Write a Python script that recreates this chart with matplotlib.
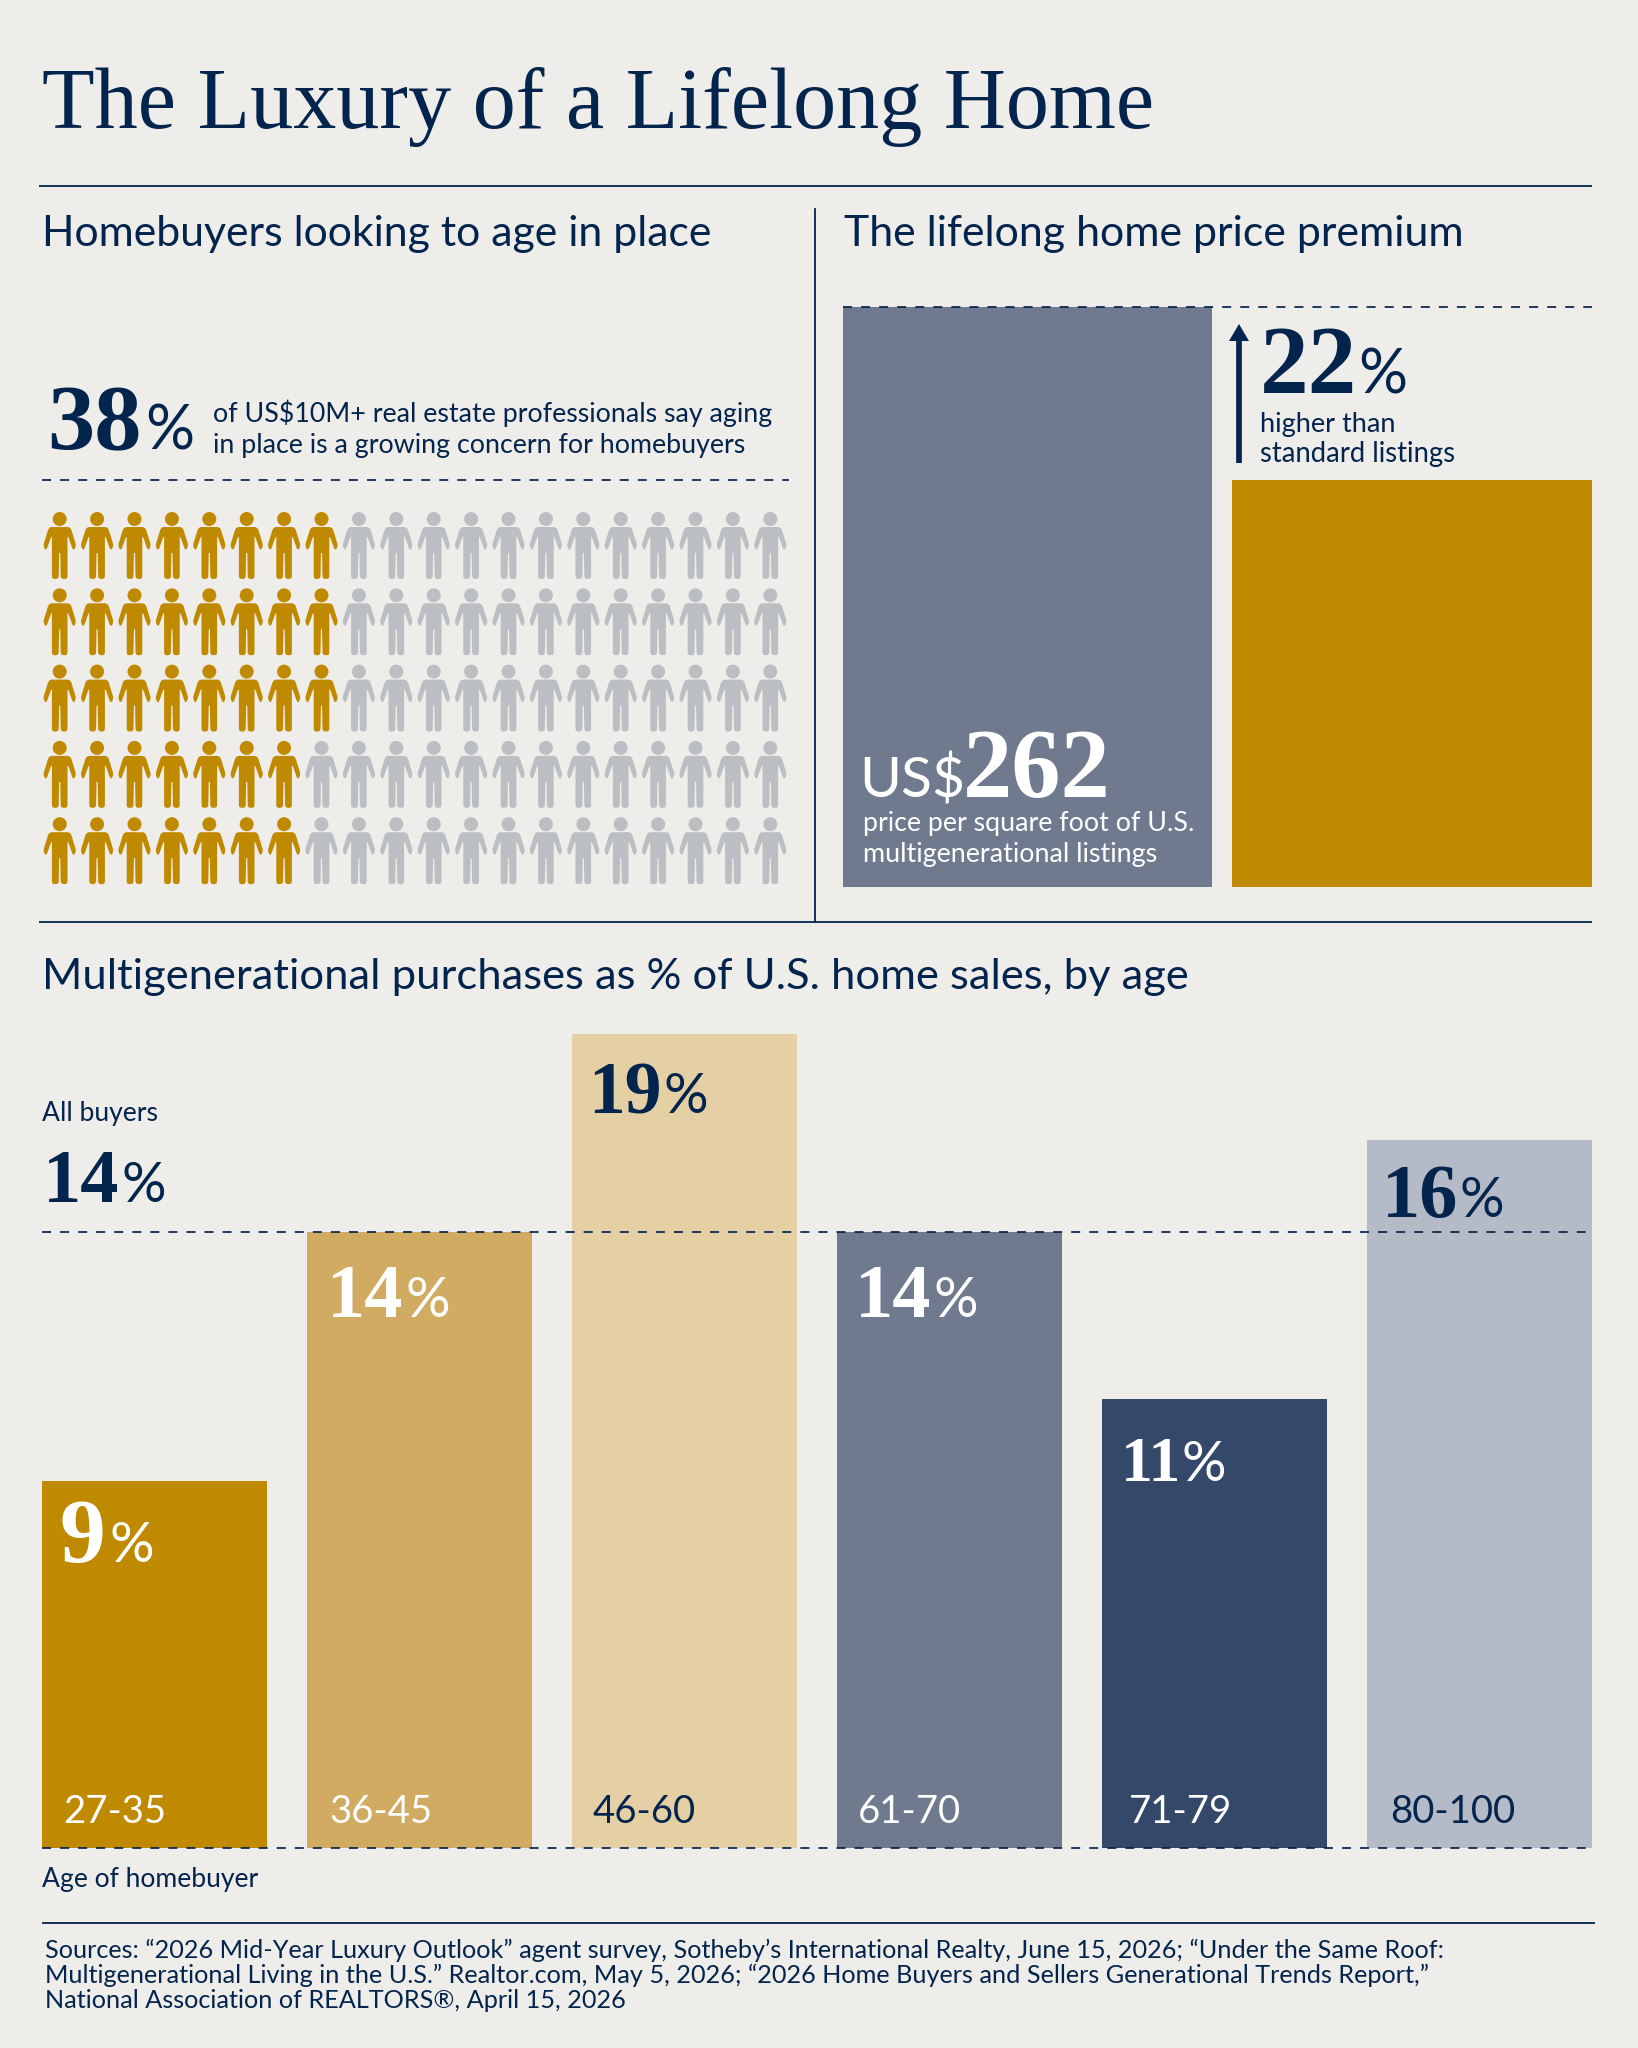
import numpy as np
import matplotlib
matplotlib.use('Agg')
import matplotlib.pyplot as plt
from matplotlib.path import Path

W, H = 1638, 2048
BG = '#eeede9'
NAVY = '#03244d'
GOLD = '#c08a00'
SLATE = '#707a8f'
GREY = '#bbbfc3'
SANS = 'Lato'
SERIF = 'Liberation Serif'
DASH = (0, (5.2, 5.2))

# bar chart by age
age_groups = ['27-35', '36-45', '46-60', '61-70', '71-79', '80-100']
bar_heights = [8.35, 14.0, 18.5, 14.0, 10.2, 16.1]
bar_labels = ['9', '14', '19', '14', '11', '16']
bar_colors = [GOLD, '#d1ab61', '#e5cfa5', SLATE, '#34496a', '#b4bac6']
all_buyers = 14

# price premium bars
price_values = [262, 184]
price_colors = [SLATE, GOLD]

# people per row that count toward the 38%
gold_per_row = [8, 8, 8, 7, 7]
n_cols = 20


def axes_px(x0, y0, x1, y1):
    # axes from pixel box, y measured from the top of the image
    a = fig.add_axes([x0 / W, 1 - y1 / H, (x1 - x0) / W, (y1 - y0) / H])
    a.axis('off')
    a.patch.set_alpha(0)
    return a


def person_path():
    # right half of the body, origin at hip centre, y up, units are image pixels
    half = [(0, 30), (8.3, 30), (10.5, 29), (11.7, 27), (16, 13), (16, 11), (15, 8), (13.5, 7.5),
            (12.5, 9), (8.6, 20), (7.8, 20), (7.8, -19.5), (7, -21.5), (4.5, -22), (2, -21.5),
            (1, -19.5), (0.6, 4), (0, 4)]
    right = np.array(half, float)
    left = right[::-1] * [-1, 1]
    body = Path(np.vstack([right, left[1:], right[:1]]), closed=True)
    head = Path.circle((0, 38), 7)
    return Path.make_compound_path(body, head)


fig = plt.figure(figsize=(W / 100, H / 100), dpi=100, facecolor=BG)

# bottom bars
ax = axes_px(42, 968, 1592, 1848)
x = np.arange(len(age_groups))
ax.bar(x, bar_heights, width=0.847, color=bar_colors, zorder=2)
ax.set_xlim(-0.4235, 5.4235)
ax.set_ylim(0, 20)
ax.axhline(all_buyers, color=NAVY, lw=1.25, ls=DASH, zorder=3)
ax.axhline(0, color=NAVY, lw=1.25, ls=DASH, zorder=3, clip_on=False)

# price bars, one x unit is 389 px
ax2 = axes_px(843, 307, 1592, 887)
ax2.bar([0, 1], price_values, width=[369 / 389, 360 / 389], align='edge', color=price_colors, zorder=2)
ax2.set_xlim(0, 749 / 389)
ax2.set_ylim(0, 262)
ax2.axhline(262, color=NAVY, lw=1.25, ls=DASH, zorder=3, clip_on=False)

# people grid
ax3 = axes_px(42, 500, 789, 890)
px, py, pc = [], [], []
for r, n in enumerate(gold_per_row):
    for c in range(n_cols):
        px.append(c)
        py.append(r)
        pc.append(GOLD if c < n else GREY)
ax3.scatter(px, py, marker=person_path(), s=4199, c=pc, linewidths=0)
# pitch 37.4 x 76.3 px, first person centred at x 59.7, y 557
ax3.set_xlim((42 - 59.7) / 37.4, (789 - 59.7) / 37.4)
ax3.set_ylim((890 - 557) / 76.3, (500 - 557) / 76.3)

# overlay in image pixels for rules and text
ov = axes_px(0, 0, W, H)
ov.set_xlim(0, W)
ov.set_ylim(H, 0)
ov.set_zorder(10)


def hr(x0, x1, y):
    ov.plot([x0, x1], [y, y], color=NAVY, lw=1.3, solid_capstyle='butt')


def label(x, y, s, size, color=NAVY, family=SANS, **kw):
    ov.text(x, y, s, fontsize=size, color=color, family=family, va='baseline', ha='left', **kw)


def big(x, y, s, xpct, size=55, color=NAVY, psize=40):
    # serif figure followed by a small sans percent sign
    ov.text(x, y, s, fontsize=size, color=color, family=SERIF, fontweight='bold', va='baseline')
    ov.text(xpct, y, '%', fontsize=psize, color=color, family=SANS, va='baseline')


hr(39, 1592, 186)
hr(39, 1592, 922)
hr(42, 1595, 1923)
ov.plot([815, 815], [209, 922], color=NAVY, lw=1.3)
ov.plot([42, 789], [480, 480], color=NAVY, lw=1.25, ls=DASH)

label(42, 128, 'The Luxury of a Lifelong Home', 62, family=SERIF)
label(42, 246, 'Homebuyers looking to age in place', 30.8)
label(844, 246, 'The lifelong home price premium', 30.9)
label(42, 989, 'Multigenerational purchases as % of U.S. home sales, by age', 31.3)

big(47, 449, '38', 145, size=68, psize=44)
label(213, 422, 'of US$10M+ real estate professionals say aging', 19.3)
label(213, 453, 'in place is a growing concern for homebuyers', 19.3)

# arrow next to 22%
ov.arrow(1239, 463, 0, -139, width=5.7, head_width=20, head_length=17,
         length_includes_head=True, color=NAVY, lw=0)
big(1260, 393, '22', 1358, size=70, psize=44)
label(1260, 432, 'higher than', 19.5)
label(1260, 462, 'standard listings', 19.8)

ov.text(859, 797, 'US$', fontsize=41, color='white', family=SANS, va='baseline')
ov.text(963, 797, '262', fontsize=71, color='white', family=SERIF, fontweight='bold', va='baseline')
label(863, 831, 'price per square foot of U.S.', 19.3, color='white')
label(863, 862, 'multigenerational listings', 19.4, color='white')

label(42, 1121, 'All buyers', 19.1)
big(43, 1202, '14', 121)

label_x = [60, 327, 588, 855, 1121, 1382]
pct_x = [110, 405, 663, 933, 1182, 1460]
label_y = [1562, 1317, 1113, 1317, 1481, 1217]
label_c = ['white', 'white', NAVY, 'white', 'white', NAVY]
label_s = [66, 55, 53, 55, 46, 55]
age_x = [63, 329, 593, 858, 1129, 1390]
for i, age in enumerate(age_groups):
    big(label_x[i], label_y[i], bar_labels[i], pct_x[i], size=label_s[i], color=label_c[i])
    label(age_x[i], 1823, age, 27.6, color=label_c[i])

label(42, 1887, 'Age of homebuyer', 19.1)
label(45, 1958, 'Sources: “2026 Mid-Year Luxury Outlook” agent survey, Sotheby’s International Realty, June 15, 2026; “Under the Same Roof:', 18.2)
label(45, 1983, 'Multigenerational Living in the U.S.” Realtor.com, May 5, 2026; “2026 Home Buyers and Sellers Generational Trends Report,”', 18.2)
label(45, 2008, 'National Association of REALTORS®, April 15, 2026', 18.2)

fig.savefig('out.png', dpi=100, facecolor=BG)
plt.close(fig)
